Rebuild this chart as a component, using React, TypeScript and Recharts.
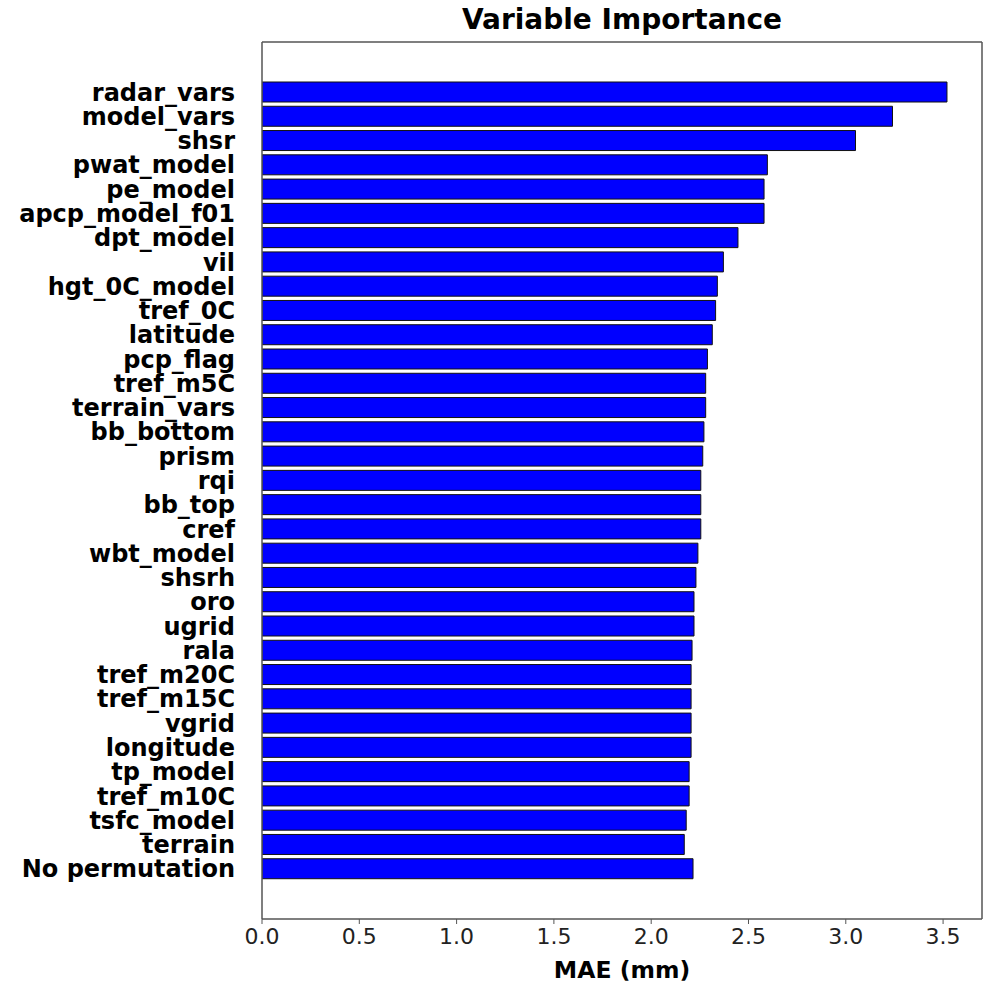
import React from 'react';
import { BarChart, Bar, XAxis, YAxis, Label } from 'recharts';

const variables = [
  'radar_vars', 'model_vars', 'shsr', 'pwat_model', 'pe_model', 'apcp_model_f01',
  'dpt_model', 'vil', 'hgt_0C_model', 'tref_0C', 'latitude', 'pcp_flag', 'tref_m5C',
  'terrain_vars', 'bb_bottom', 'prism', 'rqi', 'bb_top', 'cref', 'wbt_model', 'shsrh',
  'oro', 'ugrid', 'rala', 'tref_m20C', 'tref_m15C', 'vgrid', 'longitude', 'tp_model',
  'tref_m10C', 'tsfc_model', 'terrain', 'No permutation',
];

const maeValues = [
  3.52, 3.24, 3.05, 2.597, 2.58, 2.58,
  2.446, 2.371, 2.34, 2.331, 2.314, 2.289, 2.28,
  2.28, 2.271, 2.265, 2.255, 2.255, 2.255, 2.24, 2.23,
  2.22, 2.22, 2.21, 2.205, 2.205, 2.205, 2.205, 2.195,
  2.195, 2.18, 2.17, 2.215,
];

const xTicks = [0, 0.5, 1.0, 1.5, 2.0, 2.5, 3.0, 3.5];
const xMin = 0;
const xMax = 3.7;

const data = variables.map((name, i) => ({ name, mae: maeValues[i] }));

const FONT = "'DejaVu Sans', sans-serif";
const SPINE = '#555';

export default function App() {
  return (
    <div style={{ position: 'absolute', left: 0, top: 0, width: 990, height: 985, background: '#fff' }}>
      <div
        style={{
          position: 'absolute',
          left: 262,
          width: 720,
          top: 0,
          textAlign: 'center',
          fontFamily: FONT,
          fontWeight: 'bold',
          fontSize: 28,
          lineHeight: '40px',
          color: '#000',
        }}
      >
        Variable Importance
      </div>
      <BarChart
        width={990}
        height={985}
        data={data}
        layout="vertical"
        margin={{ top: 41, right: 7, bottom: 0, left: 0 }}
      >
        <XAxis
          type="number"
          dataKey="mae"
          domain={[xMin, xMax]}
          ticks={xTicks}
          allowDataOverflow
          height={66}
          tickSize={5}
          tickMargin={4}
          tickFormatter={(v: number) => v.toFixed(1)}
          tick={{ fontSize: 22, fill: '#222', fontFamily: FONT }}
          axisLine={{ stroke: SPINE, strokeWidth: 1.5 }}
          tickLine={{ stroke: SPINE }}
        >
          <Label
            value="MAE (mm)"
            position="insideBottom"
            offset={7}
            style={{ fontSize: 23.5, fontWeight: 'bold', fill: '#000', fontFamily: FONT }}
          />
        </XAxis>
        <XAxis
          xAxisId="top"
          orientation="top"
          type="number"
          domain={[xMin, xMax]}
          height={1}
          tick={false}
          tickLine={false}
          axisLine={{ stroke: SPINE, strokeWidth: 1.5 }}
        />
        <YAxis
          type="category"
          dataKey="name"
          width={262}
          interval={0}
          padding={{ top: 38, bottom: 38 }}
          tickLine={false}
          tickSize={6}
          tickMargin={21}
          tick={{ fontSize: 24, fontWeight: 'bold', fill: '#000', fontFamily: FONT }}
          axisLine={{ stroke: SPINE, strokeWidth: 1.5 }}
        />
        <YAxis
          yAxisId="right"
          orientation="right"
          type="category"
          dataKey="name"
          width={1}
          tick={false}
          tickLine={false}
          axisLine={{ stroke: SPINE, strokeWidth: 1.5 }}
        />
        <Bar
          dataKey="mae"
          fill="#0000ff"
          stroke="#111"
          strokeWidth={1}
          barSize={20}
          isAnimationActive={false}
        />
      </BarChart>
    </div>
  );
}
